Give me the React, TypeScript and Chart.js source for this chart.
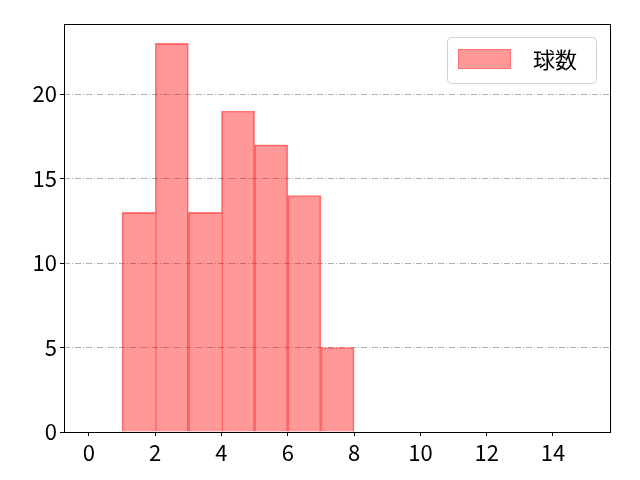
import React, { useEffect, useRef } from 'react';
import { Chart, registerables } from 'chart.js';

Chart.register(...registerables);

// histogram bins (centres) and pitch counts per bin
const binCenters = [0.5, 1.5, 2.5, 3.5, 4.5, 5.5, 6.5, 7.5, 8.5, 9.5, 10.5, 11.5, 12.5, 13.5, 14.5];
const counts = [0, 13, 23, 13, 19, 17, 14, 5, 0, 0, 0, 0, 0, 0, 0];
const xTicks = [0, 2, 4, 6, 8, 10, 12, 14];
const yTicks = [0, 5, 10, 15, 20];
const seriesLabel = '球数';

const FONT = '"Noto Sans CJK JP", "Noto Sans", sans-serif';
const FILL = 'rgba(255, 0, 0, 0.4)';
const EDGE = 'rgba(255, 0, 0, 0.5)';

// frame on all four sides plus the matplotlib-like legend box
const framePlugin = {
    id: 'frame',
    afterDraw(chart: Chart) {
        const { ctx, chartArea } = chart;
        ctx.save();
        ctx.strokeStyle = '#000';
        ctx.lineWidth = 1;
        ctx.strokeRect(chartArea.left + 0.5, chartArea.top + 0.5, chartArea.right - chartArea.left - 1, chartArea.bottom - chartArea.top);

        // legend
        const w = 149;
        const h = 46;
        const x = chartArea.right - 15 - w;
        const y = chartArea.top + 13;
        ctx.beginPath();
        ctx.roundRect(x + 0.5, y + 0.5, w, h, 4);
        ctx.fillStyle = 'rgba(255,255,255,0.8)';
        ctx.fill();
        ctx.strokeStyle = '#d0d0d0';
        ctx.stroke();

        ctx.fillStyle = FILL;
        ctx.fillRect(x + 11, y + 12, 53, 20);
        ctx.strokeStyle = 'rgba(255, 0, 0, 0.25)';
        ctx.strokeRect(x + 11.5, y + 12.5, 52, 19);

        ctx.fillStyle = '#000';
        ctx.font = `22px ${FONT}`;
        ctx.textAlign = 'left';
        ctx.textBaseline = 'middle';
        ctx.fillText(seriesLabel, x + 86, y + 23);
        ctx.restore();
    },
};

const App: React.FC = () => {
    const chartRef = useRef<HTMLCanvasElement>(null);
    const chartInstance = useRef<Chart | null>(null);

    useEffect(() => {
        document.body.style.margin = '0';
        if (!chartRef.current) return;
        const ctx = chartRef.current.getContext('2d');
        if (!ctx) return;

        if (chartInstance.current) {
            chartInstance.current.destroy();
        }

        chartInstance.current = new Chart(ctx, {
            type: 'bar',
            data: {
                datasets: [
                    {
                        label: seriesLabel,
                        data: binCenters.map((c, i) => ({ x: c, y: counts[i] })),
                        backgroundColor: FILL,
                        borderColor: EDGE,
                        // shared edges drawn once: right edge only when the next bar is lower
                        borderWidth: (c: any) => {
                            const i = c.dataIndex;
                            const next = i + 1 < counts.length ? counts[i + 1] : 0;
                            return { left: 1, top: 1, bottom: 0, right: next < counts[i] ? 1 : 0 };
                        },
                        borderSkipped: false,
                        barPercentage: 1,
                        categoryPercentage: 1,
                    },
                ],
            },
            options: {
                responsive: false,
                animation: false,
                devicePixelRatio: 1,
                layout: {
                    padding: { top: 24, right: 29, left: 0, bottom: 0 },
                },
                scales: {
                    x: {
                        type: 'linear',
                        min: -0.75,
                        max: 15.75,
                        offset: false,
                        afterBuildTicks: (scale: any) => {
                            scale.ticks = xTicks.map((v) => ({ value: v }));
                        },
                        afterFit: (scale: any) => {
                            scale.height = 48;
                        },
                        grid: {
                            offset: false,
                            drawOnChartArea: false,
                            drawTicks: true,
                            tickLength: 4,
                            tickColor: '#000',
                            tickWidth: 1,
                        },
                        border: { display: false },
                        ticks: {
                            color: '#000',
                            padding: 3,
                            maxRotation: 0,
                            autoSkip: false,
                            font: { family: FONT, size: 22 },
                        },
                    },
                    y: {
                        min: 0,
                        max: 24.15,
                        afterBuildTicks: (scale: any) => {
                            scale.ticks = yTicks.map((v) => ({ value: v }));
                        },
                        afterFit: (scale: any) => {
                            scale.width = 64;
                        },
                        grid: {
                            color: (c: any) => (c.tick && c.tick.value === 0 ? 'rgba(0,0,0,0)' : '#b0b0b0'),
                            lineWidth: 1,
                            drawTicks: true,
                            tickLength: 4,
                            tickColor: '#000',
                            tickWidth: 1,
                        },
                        border: { display: false, dash: [6, 2, 1, 2] },
                        ticks: {
                            color: '#000',
                            padding: 3,
                            autoSkip: false,
                            font: { family: FONT, size: 22 },
                        },
                    },
                },
                plugins: {
                    legend: { display: false },
                    tooltip: { enabled: false },
                },
            },
            plugins: [framePlugin],
        });

        return () => {
            if (chartInstance.current) {
                chartInstance.current.destroy();
                chartInstance.current = null;
            }
        };
    }, []);

    return (
        <div style={{ width: 640, height: 480, background: '#fff' }}>
            <canvas ref={chartRef} width={640} height={480}></canvas>
        </div>
    );
};

export default App;
